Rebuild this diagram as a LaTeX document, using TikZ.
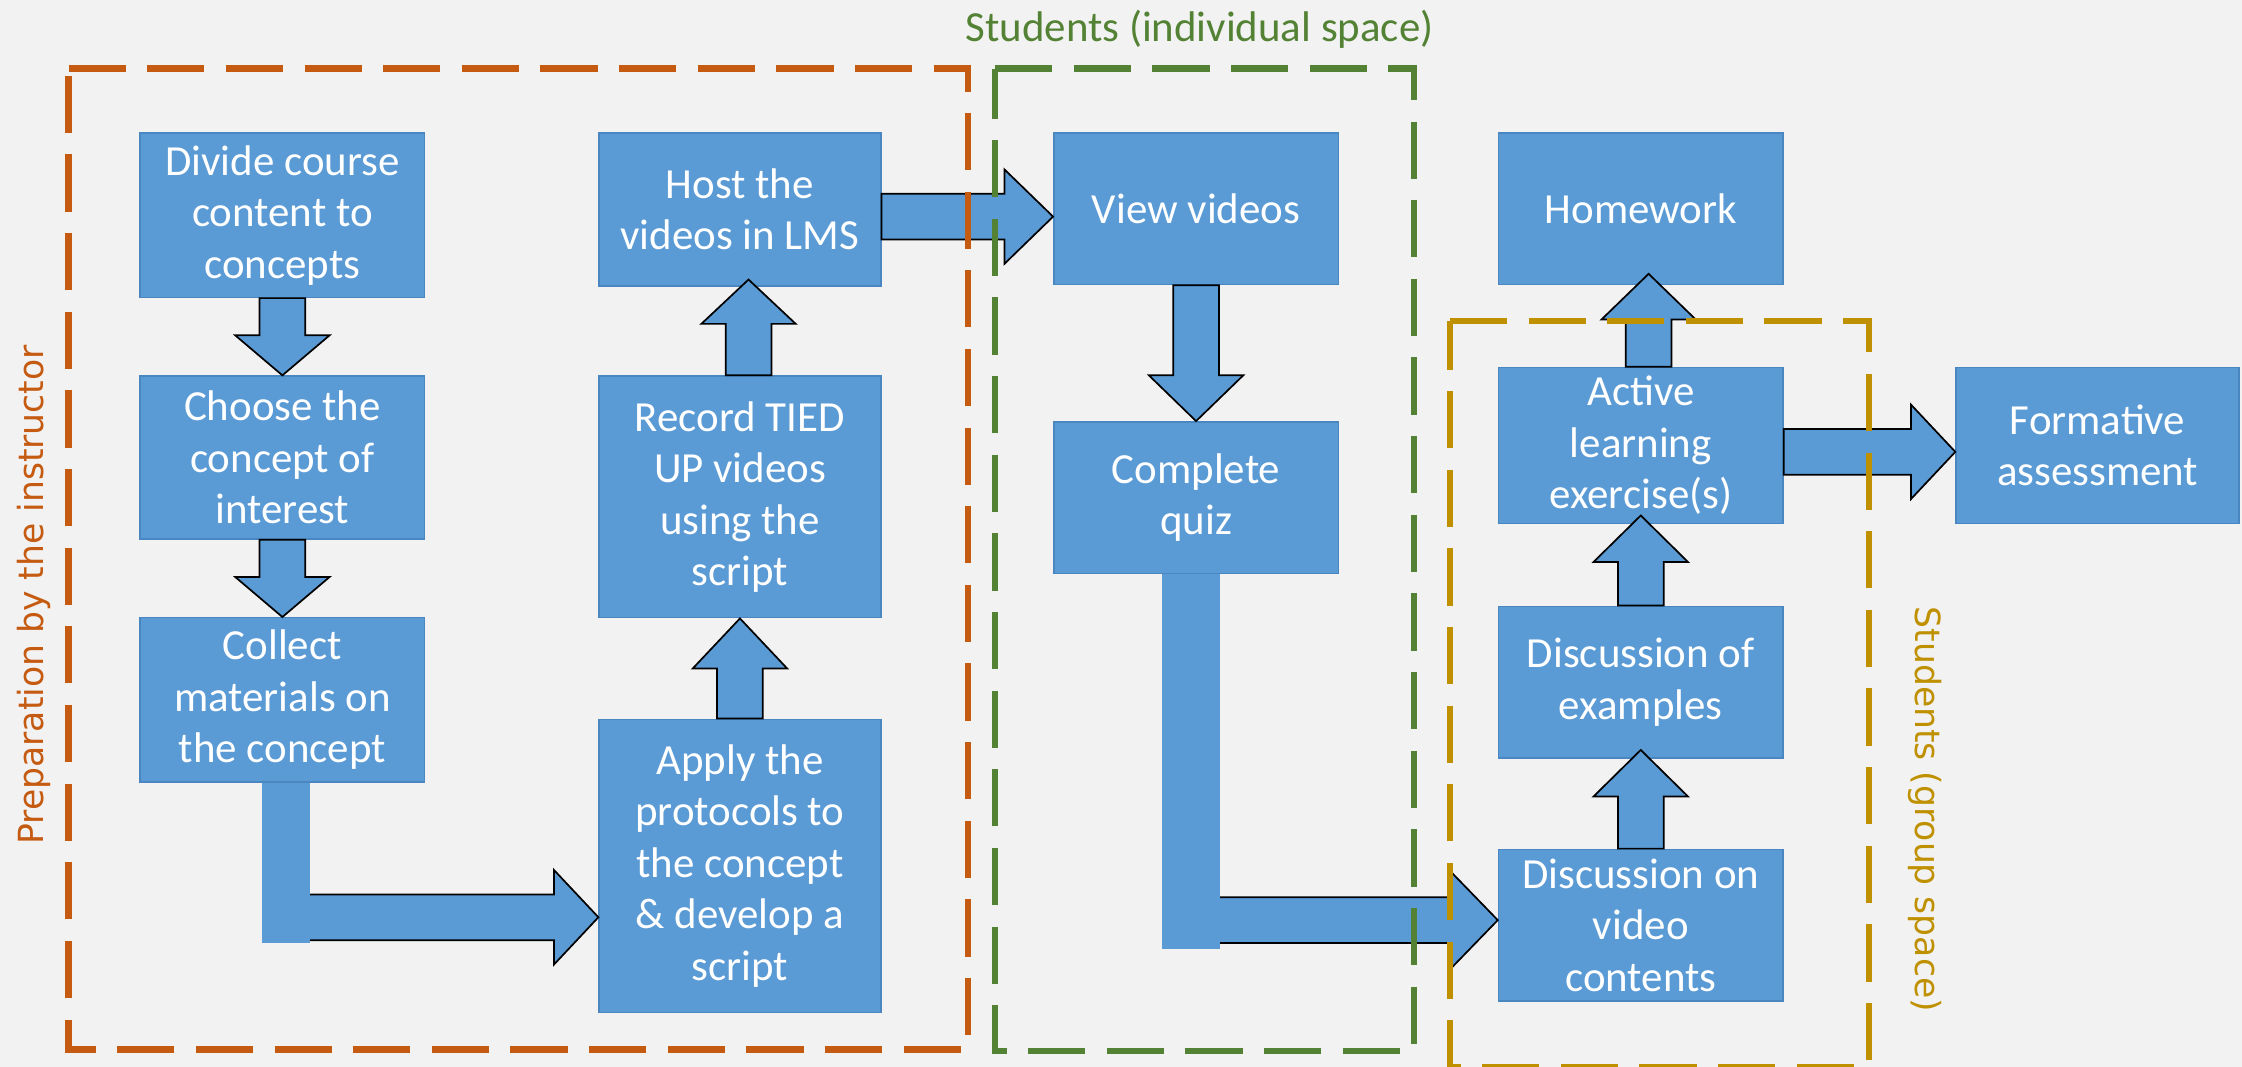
\documentclass[tikz,border=0pt]{standalone}
\usepackage{fontspec}
\setmainfont{Carlito}
\newfontfamily\sidefont{DejaVu Sans}
\usetikzlibrary{calc}

\definecolor{bg}{HTML}{F2F2F2}
\definecolor{boxblue}{HTML}{5B9BD5}
\definecolor{boxedge}{HTML}{4A86C0}
\definecolor{prepor}{HTML}{C55A11}
\definecolor{indgreen}{HTML}{548235}
\definecolor{grpgold}{HTML}{BF9000}

\tikzset{
  stepbox/.style={rectangle, fill=boxblue, draw=boxedge, line width=0.5pt,
    text=white, align=center, inner sep=0pt,
    font=\fontsize{15}{18}\selectfont},
  barrow/.style={fill=boxblue, draw=black, line width=0.6pt},
  elbowbar/.style={fill=boxblue},
  frame/.style={line width=2.2pt, dash pattern=on 20pt off 7.5pt},
  sidelabel/.style={font=\sidefont\fontsize{12.1}{14}\selectfont, inner sep=0pt},
}

% vertical block arrow: start point, tip point, head length (positive = pointing down)
\newcommand{\vblock}[3]{%
  \draw[barrow] ($(#1)+(-16,0)$) -- ($(#2)+(-16,{-(#3)})$) -- ($(#2)+(-33,{-(#3)})$)
    -- (#2) -- ($(#2)+(33,{-(#3)})$) -- ($(#2)+(16,{-(#3)})$) -- ($(#1)+(16,0)$) -- cycle;}
% horizontal block arrow pointing right: start point, tip point, head length
\newcommand{\hblock}[3]{%
  \draw[barrow] ($(#1)+(0,-16)$) -- ($(#2)+(-#3,-16)$) -- ($(#2)+(-#3,-33)$)
    -- (#2) -- ($(#2)+(-#3,33)$) -- ($(#2)+(-#3,16)$) -- ($(#1)+(0,16)$) -- cycle;}

\begin{document}
\begin{tikzpicture}[x=0.5pt, y=-0.5pt]
\fill[bg] (0,0) rectangle (1568,746);
\useasboundingbox (0,0) rectangle (1568,746);

% process steps
\node[stepbox, minimum width=99.5pt, minimum height=57.5pt] (div) at (197.5,150.5) {Divide course\\content to\\concepts};
\node[stepbox, minimum width=99.5pt, minimum height=57pt] (cho) at (197.5,320) {Choose the\\concept of\\interest};
\node[stepbox, minimum width=99.5pt, minimum height=57.5pt] (col) at (197.5,489.5) {Collect\\materials on\\the concept};
\node[stepbox, minimum width=98.5pt, minimum height=102.5pt] (app) at (517.5,605.5) {Apply the\\protocols to\\the concept\\\& develop a\\script};
\node[stepbox, minimum width=98.5pt, minimum height=84.5pt] (rec) at (517.5,347.5) {Record TIED\\UP videos\\using the\\script};
\node[stepbox, minimum width=98.5pt, minimum height=53.5pt] (host) at (517.5,146.5) {Host the\\videos in LMS};
\node[stepbox, minimum width=99.5pt, minimum height=53pt] (view) at (836.5,146) {View videos};
\node[stepbox, minimum width=99.5pt, minimum height=53pt] (quiz) at (836.5,348) {Complete\\quiz};
\node[stepbox, minimum width=99.5pt, minimum height=53pt] (hw) at (1147.5,146) {Homework};
\node[stepbox, minimum width=99.5pt, minimum height=54.5pt] (act) at (1147.5,311.5) {Active\\learning\\exercise(s)};
\node[stepbox, minimum width=99.5pt, minimum height=53pt] (dex) at (1147.5,477) {Discussion of\\examples};
\node[stepbox, minimum width=99.5pt, minimum height=53pt] (dvid) at (1147.5,647) {Discussion on\\video\\contents};
\node[stepbox, minimum width=99pt, minimum height=54.5pt] (form) at (1467,311.5) {Formative\\assessment};

% arrow end points
\coordinate (a1s) at (div.south);
\coordinate (a1t) at (div.south|-cho.north);
\coordinate (a2s) at (cho.south);
\coordinate (a2t) at (cho.south|-col.north);
\coordinate (a3c) at ($(col.south)+(2.5,94)$);
\coordinate (a3s) at ($(a3c)+(15,0)$);
\coordinate (a3t) at (a3c-|app.west);
\coordinate (a4s) at (app.north);
\coordinate (a4t) at (app.north|-rec.south);
\coordinate (a5s) at ($(rec.north)+(6,0)$);
\coordinate (a5t) at ($(a5s|-host.south)+(0,-5)$);
\coordinate (a6s) at ($(host.east)+(0,5)$);
\coordinate (a6t) at (a6s-|view.west);
\coordinate (a7s) at (view.south);
\coordinate (a7t) at (view.south|-quiz.north);
\coordinate (a8c) at ($(quiz.south)+(-3.5,242)$);
\coordinate (a8s) at ($(a8c)+(18,0)$);
\coordinate (a8t) at (a8c-|dvid.west);
\coordinate (a9s) at (dvid.north);
\coordinate (a9t) at ($(dvid.north|-dex.south)+(0,-6)$);
\coordinate (a10s) at (dex.north);
\coordinate (a10t) at ($(dex.north|-act.south)+(0,-6)$);
\coordinate (a11s) at ($(act.north)+(5.5,0)$);
\coordinate (a11t) at ($(a11s|-hw.south)+(0,-8)$);
\coordinate (a12s) at ($(act.east)+(0,4.5)$);
\coordinate (a12t) at (a12s-|form.west);

% connectors
\vblock{a1s}{a1t}{28}
\vblock{a2s}{a2t}{28}
\hblock{a3s}{a3t}{31}
\fill[elbowbar] ($(col.south)+(-14.5,0)$) rectangle ($(a3c)+(17,18)$);
\vblock{a4s}{a4t}{-35}
\vblock{a5s}{a5t}{-31}
\hblock{a6s}{a6t}{34}
\vblock{a7s}{a7t}{32}
\hblock{a8s}{a8t}{32}
\fill[elbowbar] ($(quiz.south)+(-23.5,0)$) rectangle ($(a8c)+(20,20)$);
\vblock{a9s}{a9t}{-32.5}
\vblock{a10s}{a10t}{-32.5}
\vblock{a11s}{a11t}{-32}
\hblock{a12s}{a12t}{31}

% group frames
\draw[frame, prepor] (48,48) -- (677,48) -- (677,734) -- (48,734) -- cycle;
\draw[frame, indgreen] (696,48) -- (989,48) -- (989,735) -- (696,735) -- cycle;
\draw[frame, grpgold] (1014,224.5) -- (1307,224.5) -- (1307,746) -- (1014,746) -- cycle;

% frame labels
\node[font=\fontsize{15}{18}\selectfont, text=indgreen, inner sep=0pt] (lblind) at (839,20.5) {Students (individual space)};
\node[sidelabel, text=prepor, rotate=90] (lblprep) at (24,416) {Preparation by the instructor};
\node[sidelabel, text=grpgold, rotate=-90] (lblgrp) at (1346,566) {Students (group space)};
\end{tikzpicture}
\end{document}
